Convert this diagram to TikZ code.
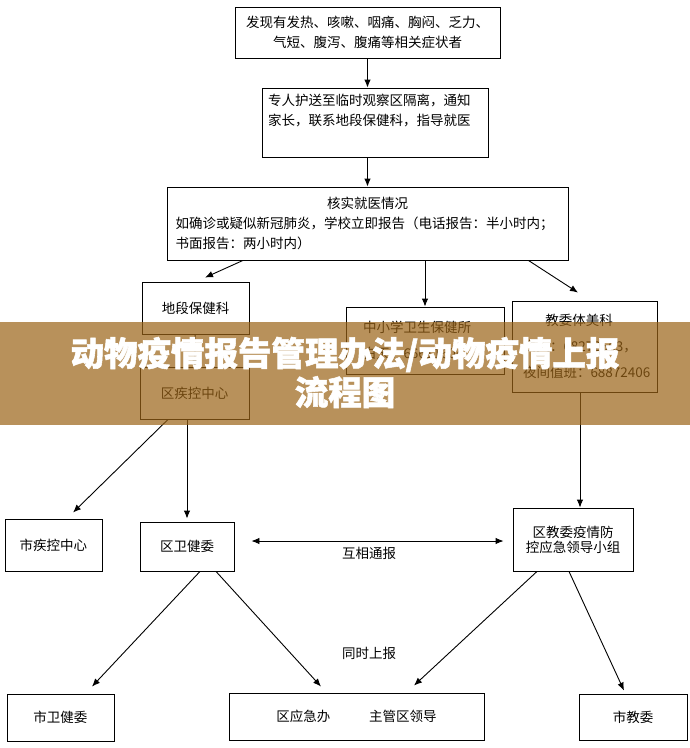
\documentclass[tikz,border=0pt]{standalone}
\usepackage{fontspec}
\setmainfont{Noto Sans CJK SC}
\newfontfamily\titlefont{Noto Sans CJK SC}[BoldFeatures={FakeBold=1.6}]
\usetikzlibrary{calc,arrows.meta,positioning}
\definecolor{bannerbrown}{RGB}{154,99,22}

\begin{document}
\begin{tikzpicture}
[x=1pt, y=-1pt,
box/.style={rectangle, draw, line width=.9pt, inner sep=0pt, font=\fontsize{13.5}{20}\selectfont},
tag/.style={font=\fontsize{13.5}{16}\selectfont},
link/.style={->, line width=.9pt},
>/.tip={Latex[length=8pt, width=6.5pt]}]

	\useasboundingbox (0,0) rectangle (690,748);

	\node (find) at (367.5,32.5) [box, minimum width=265pt, minimum height=51pt, align=center]{发现有发热、咳嗽、咽痛、胸闷、乏力、\\气短、腹泻、腹痛等相关症状者};
	\node (escort) at (375,122.5) [box, minimum width=226pt, minimum height=69pt, text width=214pt, align=left]{专人护送至临时观察区隔离，通知\\家长，联系地段保健科，指导就医\\ \strut};
	\node (check) at (367.5,223.5) [box, minimum width=401pt, minimum height=73pt, text width=384pt, align=left]{\makebox[384pt]{核实就医情况}\\如确诊或疑似新冠肺炎，学校立即报告（电话报告：半小时内；\\书面报告：两小时内）};

	\node (dibao) at (195.5,308) [box, minimum width=107pt, minimum height=52pt]{地段保健科};
	\node (qjk) at (194.5,393) [box, minimum width=109pt, minimum height=52pt]{区疾控中心};
	\node (zxx) at (425,340.5) [box, minimum width=158pt, minimum height=67pt, text width=124pt, align=left]{中小学卫生保健所\\[6pt]白天：66611604};
	\node (jwt) at (584.5,346.5) [box, minimum width=145pt, minimum height=91pt, text width=123pt, align=left]{\makebox[112pt]{教委体美科}\\[6pt]白天：68272563，\\[6pt]夜间值班：68872406};

	\node (sjk) at (53.5,545) [box, minimum width=97pt, minimum height=52pt]{市疾控中心};
	\node (qwj) at (187,546.5) [box, minimum width=94pt, minimum height=49pt]{区卫健委};
	\node (qjw) at (573,539.5) [box, minimum width=120pt, minimum height=63pt, align=center, font=\fontsize{13.5}{15}\selectfont]{区教委疫情防\\控应急领导小组};

	\node (swj) at (60.5,717.5) [box, minimum width=107pt, minimum height=47pt]{市卫健委};
	\node (ldr) at (356.5,716.5) [box, minimum width=255pt, minimum height=47pt]{区应急办\hspace{39pt}主管区领导};
	\node (sjw) at (633,717) [box, minimum width=108pt, minimum height=46pt]{市教委};

	\node (mutual) at (369,553) [tag]{互相通报};
	\node (both) at (369,653) [tag]{同时上报};

	\draw[link] (find.south) -- (find.south |- escort.north);
	\draw[link] (check.north |- escort.south) -- (check.north);
	\draw[link] ($(check.south west)!.19!(check.south east)$) -- ($(dibao.north)+(9.5,-4)$);
	\draw[link] (zxx.north |- check.south) -- (zxx.north);
	\draw[link] ($(check.south east)+(-40,0)$) -- ($(jwt.north)+(-6.5,-8)$);
	\draw[link] (dibao) -- (qjk);
	\draw[link] ($(jwt.south)+(-4.5,0)$) -- ($(qjw.north)+(7,0)$);

	\draw[link] ($(qjk.south)+(-26.5,0)$) -- ($(sjk.north)+(19.5,-6)$);
	\draw[link, shorten >=3pt] (qwj.north |- qjk.south) -- (qwj.north);
	\draw[link, <->] ($(qwj.east)+(17,-5.5)$) -- ($(qjw.west)+(-9,1.5)$);

	\draw[link] ($(qwj.south)+(13,0)$) -- ($(swj.north)+(31.5,-7)$);
	\draw[link] ($(qwj.south)+(29,0)$) -- ($(ldr.north)+(-35.5,-6)$);
	\draw[link] ($(qjw.south)+(-36,0)$) -- ($(ldr.north)+(57.5,-7)$);
	\draw[link] ($(qjw.south)+(-4,0)$) -- ($(sjw.north)+(-9,-3)$);

	% title banner laid over the chart
	\node (banner) at (345,373.5) [minimum width=690pt, minimum height=103pt, inner sep=0pt, fill=bannerbrown, fill opacity=.7]{};
	\node (title) at (345,372.5) [align=center, text=white, font=\fontsize{33.5}{39}\selectfont\titlefont\bfseries]{动物疫情报告管理办法/动物疫情上报\\流程图};

\end{tikzpicture}
\end{document}
